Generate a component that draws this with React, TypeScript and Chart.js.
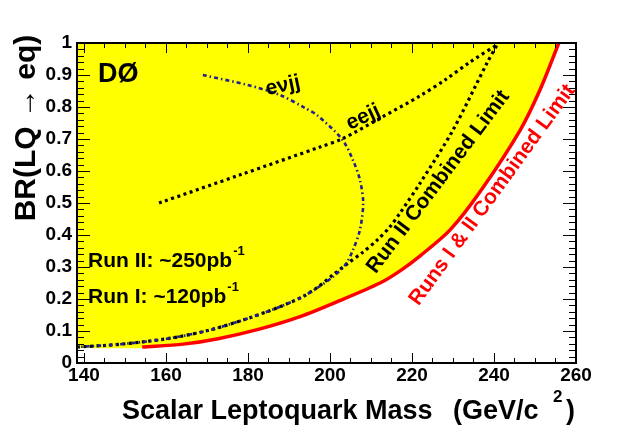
import React, { useEffect, useRef } from 'react';
import { Chart, registerables } from 'chart.js';
Chart.register(...registerables);

// Runs I & II combined limit (red)
const redMass = [154.2, 164.2, 172.4, 182.5, 192.7, 202.4, 212.2, 217.1, 222.0, 229.3, 236.6, 246.4, 251.2, 255.8];
const redBR = [0.05, 0.059, 0.075, 0.105, 0.145, 0.195, 0.25, 0.288, 0.335, 0.416, 0.535, 0.728, 0.853, 1.0];
// Run II combined limit (black dotted)
const run2Mass = [138.3, 146.3, 154.4, 162.7, 172.4, 184.6, 192.7, 196.8, 200.7, 204.4, 207.8, 211.5, 214.6, 217.1, 222.0, 230.0, 238.3, 241.0];
const run2BR = [0.05, 0.056, 0.066, 0.081, 0.109, 0.16, 0.203, 0.235, 0.275, 0.312, 0.344, 0.384, 0.425, 0.469, 0.5625, 0.728, 0.9375, 1.0];
// e nu jj (blue dash-dot)
const enjjMass = [169.0, 179.8, 187.8, 193.9, 196.8, 202.9, 205.6, 207.3, 208.1, 207.3, 205.6, 203.7, 200.7, 196.8, 192.7, 184.6, 172.4, 162.7, 154.4, 146.3, 138.3];
const enjjBR = [0.9, 0.869, 0.8375, 0.797, 0.775, 0.70, 0.634, 0.572, 0.5, 0.416, 0.353, 0.306, 0.269, 0.234, 0.203, 0.16, 0.109, 0.081, 0.066, 0.056, 0.05];
// eejj (black dotted)
const eejjMass = [158.3, 178.1, 197.6, 202.9, 212.2, 222.0, 228.1, 234.1, 240.7];
const eejjBR = [0.5, 0.588, 0.675, 0.70, 0.765, 0.835, 0.885, 0.94, 0.994];
// excluded-region lower edge before the red curve starts
const fillLeadMass = [138.3, 154.2];
const fillLeadBR = [0.047, 0.047];

const xMin = 138.3;
const xMax = 260;
const xMajorTicks = [140, 160, 180, 200, 220, 240, 260];
const xMinorStep = 5;
const yMajorStep = 0.1;
const yMinorStep = 0.02;

const FONT = '"Liberation Sans", Arial, Helvetica, sans-serif';

const pts = (xs: number[], ys: number[]) => xs.map((x, i) => ({ x, y: ys[i] }));

const textLabels = [
  { text: 'DØ', x: 143.4, y: 0.878, size: 27, color: '#000', angle: 0, align: 'left' },
  { text: 'eνjj', x: 188.5, y: 0.866, size: 21, color: '#000', angle: -12, align: 'center' },
  { text: 'eejj', x: 208.1, y: 0.768, size: 21, color: '#000', angle: -25, align: 'center' },
  { text: 'Run II Combined Limit', x: 226.4, y: 0.566, size: 21, color: '#000', angle: -53, align: 'center' },
  { text: 'Runs I & II Combined Limit', x: 239.6, y: 0.525, size: 21, color: '#ff0000', angle: -54, align: 'center' },
];
const lumiLabels = [
  { text: 'Run II: ~250pb', sup: '-1', x: 141, y: 0.30 },
  { text: 'Run I: ~120pb', sup: '-1', x: 141, y: 0.1875 },
];

const decorPlugin = {
  id: 'decor',
  afterDatasetsDraw(chart: any) {
    const { ctx, scales } = chart;
    const xs = scales.x, ys = scales.y;
    ctx.save();
    for (const l of textLabels) {
      const px = xs.getPixelForValue(l.x), py = ys.getPixelForValue(l.y);
      ctx.save();
      ctx.translate(px, py);
      ctx.rotate((l.angle * Math.PI) / 180);
      ctx.font = `bold ${l.size}px ${FONT}`;
      ctx.fillStyle = l.color;
      ctx.textAlign = l.align;
      ctx.textBaseline = l.align === 'left' ? 'alphabetic' : 'middle';
      ctx.fillText(l.text, 0, 0);
      ctx.restore();
    }
    for (const l of lumiLabels) {
      const px = xs.getPixelForValue(l.x), py = ys.getPixelForValue(l.y);
      ctx.font = `bold 21px ${FONT}`;
      ctx.fillStyle = '#000';
      ctx.textAlign = 'left';
      ctx.textBaseline = 'alphabetic';
      ctx.fillText(l.text, px, py);
      const w = ctx.measureText(l.text).width;
      ctx.font = `bold 13px ${FONT}`;
      ctx.fillText(l.sup, px + w + 1, py - 12);
    }
    ctx.restore();
  },
  afterDraw(chart: any) {
    const { ctx, scales, chartArea: a } = chart;
    const xs = scales.x, ys = scales.y;
    ctx.save();
    ctx.strokeStyle = '#000';
    ctx.lineWidth = 1;
    ctx.beginPath();
    // x ticks (bottom and top)
    for (let v = 140; v <= xMax + 1e-6; v += xMinorStep) {
      const major = xMajorTicks.includes(v);
      const len = major ? 10 : 5;
      const px = Math.round(xs.getPixelForValue(v)) + 0.5;
      ctx.moveTo(px, a.bottom);
      ctx.lineTo(px, a.bottom - len);
      ctx.moveTo(px, a.top);
      ctx.lineTo(px, a.top + len);
    }
    // y ticks (left and right)
    for (let i = 0; i <= 50; i++) {
      const v = i * yMinorStep;
      const major = i % 5 === 0;
      const len = major ? 13 : 7;
      const py = Math.round(ys.getPixelForValue(v)) + 0.5;
      ctx.moveTo(a.left, py);
      ctx.lineTo(a.left + len, py);
      ctx.moveTo(a.right, py);
      ctx.lineTo(a.right - len, py);
    }
    ctx.stroke();
    ctx.lineWidth = 2;
    ctx.strokeRect(a.left, a.top, a.right - a.left, a.bottom - a.top);

    // axis titles
    ctx.fillStyle = '#000';
    ctx.textBaseline = 'alphabetic';
    ctx.textAlign = 'left';
    ctx.font = `bold 27px ${FONT}`;
    ctx.fillText('Scalar Leptoquark Mass', 122, 419);
    ctx.fillText('(GeV/c', 453, 419);
    ctx.fillText(')', 566, 419);
    ctx.font = `bold 17px ${FONT}`;
    ctx.fillText('2', 553, 402);

    ctx.save();
    ctx.translate(35, 128);
    ctx.rotate(-Math.PI / 2);
    ctx.textAlign = 'center';
    ctx.font = `bold 30px ${FONT}`;
    ctx.fillText('BR(LQ → eq)', 0, 0);
    ctx.restore();
    ctx.restore();
  },
};

export default function App() {
  const ref = useRef<HTMLCanvasElement>(null);
  useEffect(() => {
    const canvas = ref.current!;
    const chart = new Chart(canvas, {
      type: 'scatter',
      data: {
        datasets: [
          {
            label: 'Runs I & II',
            data: pts(redMass, redBR),
            showLine: true,
            borderColor: '#ff0000',
            borderWidth: 3.5,
            pointRadius: 0,
            tension: 0.3,
            fill: false,
            order: 1,
          },
          {
            label: 'Run II',
            data: pts(run2Mass, run2BR),
            showLine: true,
            borderColor: '#000000',
            borderWidth: 3.2,
            borderDash: [3, 3.5],
            pointRadius: 0,
            tension: 0.3,
            fill: false,
            order: 3,
          },
          {
            label: 'enujj',
            data: pts(enjjMass, enjjBR),
            showLine: true,
            borderColor: '#1f1f8f',
            borderWidth: 2.6,
            borderDash: [4, 3, 1.5, 3],
            pointRadius: 0,
            tension: 0.3,
            fill: false,
            order: 2,
          },
          {
            label: 'eejj',
            data: pts(eejjMass, eejjBR),
            showLine: true,
            borderColor: '#000000',
            borderWidth: 3.2,
            borderDash: [3, 3.5],
            pointRadius: 0,
            tension: 0.3,
            fill: false,
            order: 4,
          },
          {
            label: 'excluded',
            data: pts(fillLeadMass.concat(redMass.slice(1)), fillLeadBR.concat(redBR.slice(1))),
            showLine: true,
            borderWidth: 0,
            borderColor: 'rgba(0,0,0,0)',
            backgroundColor: '#ffff00',
            pointRadius: 0,
            tension: 0.3,
            fill: 'end',
            order: 10,
          },
        ],
      },
      options: {
        animation: false,
        responsive: false,
        events: [],
        layout: { padding: { left: 0, top: 43, right: 64, bottom: 0 } },
        plugins: { legend: { display: false }, tooltip: { enabled: false } },
        scales: {
          x: {
            type: 'linear',
            min: xMin,
            max: xMax,
            grid: { display: false, drawTicks: false },
            border: { display: false },
            afterBuildTicks: (s: any) => {
              s.ticks = xMajorTicks.map((v) => ({ value: v }));
            },
            afterFit: (s: any) => {
              s.height = 65;
            },
            ticks: {
              color: '#000',
              font: { family: FONT, size: 19, weight: 'bold' },
              padding: 1,
              maxRotation: 0,
              autoSkip: false,
            },
          },
          y: {
            type: 'linear',
            min: 0,
            max: 1,
            grid: { display: false, drawTicks: false },
            border: { display: false },
            afterFit: (s: any) => {
              s.width = 77;
            },
            ticks: {
              stepSize: yMajorStep,
              color: '#000',
              font: { family: FONT, size: 19, weight: 'bold' },
              padding: 5,
              callback: (v: any) => String(Math.round(Number(v) * 10) / 10),
            },
          },
        },
      },
      plugins: [decorPlugin],
    } as any);
    return () => chart.destroy();
  }, []);
  return (
    <canvas
      ref={ref}
      width={640}
      height={428}
      style={{ position: 'absolute', left: 0, top: 0, width: 640, height: 428 }}
    />
  );
}
